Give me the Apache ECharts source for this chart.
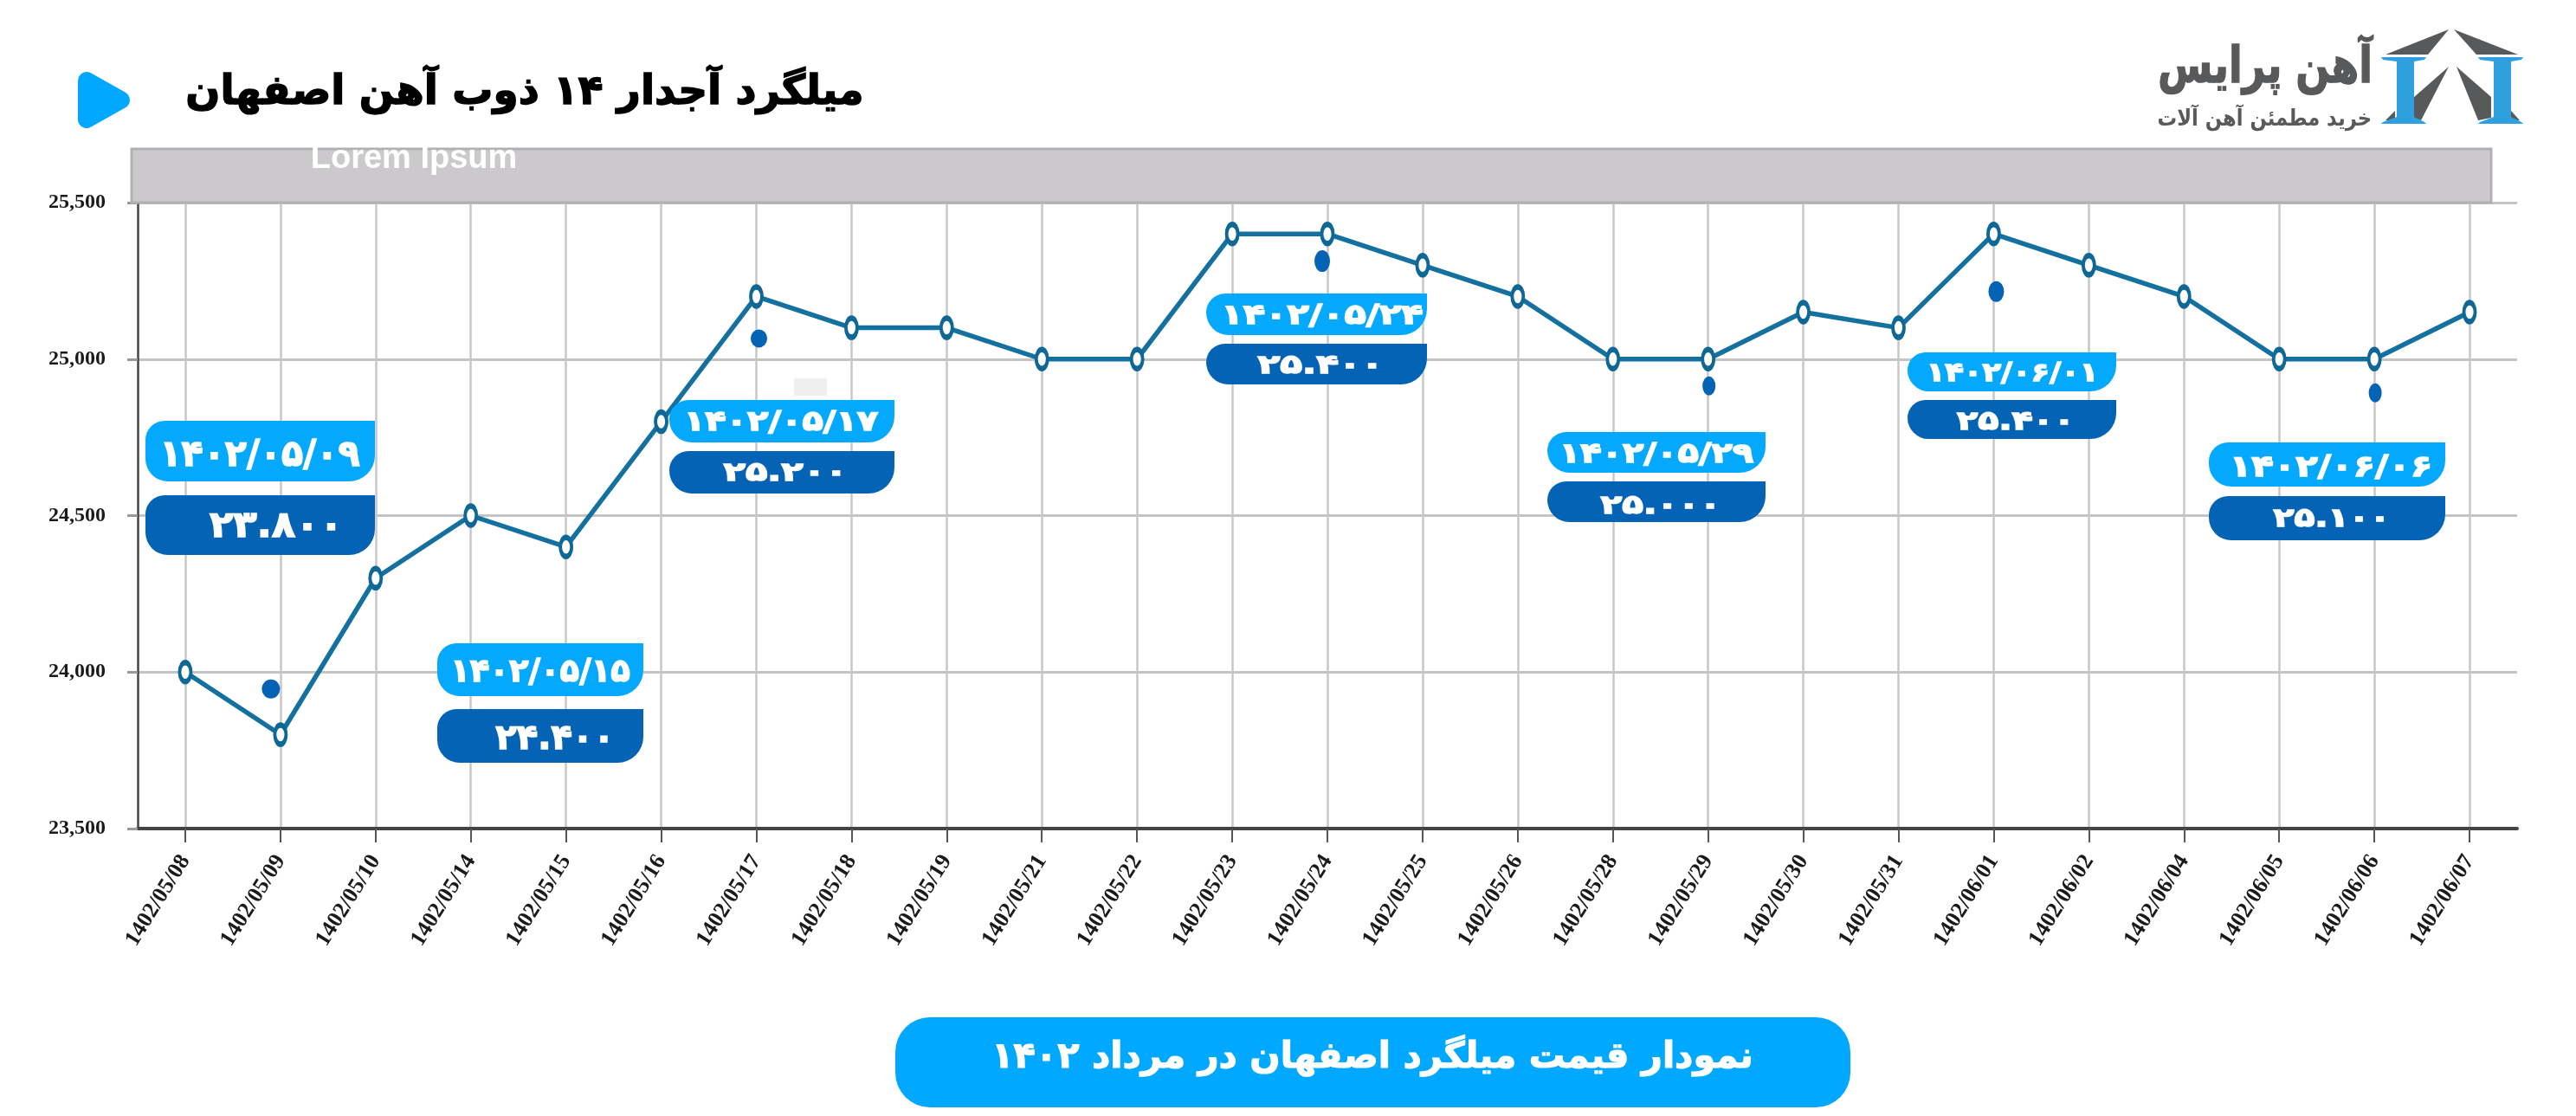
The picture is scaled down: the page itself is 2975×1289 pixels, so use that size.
<!DOCTYPE html>
<html><head><meta charset="utf-8">
<style>html,body{margin:0;padding:0;background:#fff}#c{width:2975px;height:1289px}</style>
<script src="https://cdn.jsdelivr.net/npm/echarts@6/dist/echarts.min.js"></script>
</head><body><div id="c"></div>
<script>
const categories = ['1402/05/08','1402/05/09','1402/05/10','1402/05/14','1402/05/15','1402/05/16','1402/05/17','1402/05/18','1402/05/19','1402/05/21','1402/05/22','1402/05/23','1402/05/24','1402/05/25','1402/05/26','1402/05/28','1402/05/29','1402/05/30','1402/05/31','1402/06/01','1402/06/02','1402/06/04','1402/06/05','1402/06/06','1402/06/07'];
const prices = [24000,23800,24300,24500,24400,24800,25200,25100,25100,25000,25000,25400,25400,25300,25200,25000,25000,25150,25100,25400,25300,25200,25000,25000,25150];
const dotCategories = ['1402/05/09','1402/05/17','1402/05/24','1402/05/29','1402/06/01','1402/06/06'];
const dotValues = [23946,25066,25313,24914,25216,24892];
const calloutDates = ['۱۴۰۲/۰۵/۰۹','۱۴۰۲/۰۵/۱۵','۱۴۰۲/۰۵/۱۷','۱۴۰۲/۰۵/۲۴','۱۴۰۲/۰۵/۲۹','۱۴۰۲/۰۶/۰۱','۱۴۰۲/۰۶/۰۶'];
const calloutPrices = ['۲۳.۸۰۰','۲۴.۴۰۰','۲۵.۲۰۰','۲۵.۴۰۰','۲۵.۰۰۰','۲۵.۴۰۰','۲۵.۱۰۰'];
const titleText = 'میلگرد آجدار ۱۴ ذوب آهن اصفهان';
const footerText = 'نمودار قیمت میلگرد اصفهان در مرداد ۱۴۰۲';
const brandName = 'آهن پرایس';
const brandTag = 'خرید مطمئن آهن آلات';
const bandText = 'Lorem Ipsum';

const dotLook = [[21,22,-11],[19,21,3],[18,25,-6],[15,22,1],[18,24,3],[15,22,1]];
const boxes = [
 {x:168,w:265,ly:486,lh:70,dy:572,dh:69,dc:[300,522],vc:[319,604],ds:42,dx:0.98,vs:42,vx:1.07},
 {x:505,w:238,ly:743,lh:61,dy:819,dh:62,dc:[624,773],vc:[641,850],ds:37,dx:1,vs:40,vx:1},
 {x:773,w:260,ly:462,lh:49,dy:521,dh:49,dc:[902,485],vc:[907,544],ds:32,dx:1.25,vs:30,vx:1.39},
 {x:1393,w:255,ly:339,lh:48,dy:397,dh:47,dc:[1527,362],vc:[1525,420],ds:32,dx:1.3,vs:30,vx:1.41},
 {x:1787,w:252,ly:499,lh:47,dy:556,dh:47,dc:[1913,522],vc:[1918,582],ds:32,dx:1.25,vs:30,vx:1.35},
 {x:2203,w:241,ly:407,lh:45,dy:462,dh:45,dc:[2324,429],vc:[2328,485],ds:30,dx:1.18,vs:30,vx:1.32},
 {x:2551,w:273,ly:511,lh:51,dy:573,dh:51,dc:[2692,537],vc:[2693,597],ds:34,dx:1.23,vs:30,vx:1.31}
];
const FA = '"DejaVu Sans"';
const Z = 100;
const g = [];
const txt = (x,y,text,font,fill,align,extra,sx)=>({type:'text',z:Z,x,y,scaleX:sx||1,style:Object.assign({text,font,fill,align:align||'center',verticalAlign:'middle'},extra||{})});
const rect = (x,y,w,h,r,fill,extra)=>({type:'rect',z:Z,shape:{x,y,width:w,height:h,r},style:Object.assign({fill},extra||{})});
const poly = (points,fill)=>({type:'polygon',z:Z,shape:{points},style:{fill}});

// header
g.push({type:'polygon',z:Z,shape:{points:[[100,93],[140,115.5],[100,138]]},style:{fill:'#00a8ff',stroke:'#00a8ff',lineWidth:20,lineJoin:'round'}});
g.push(txt(606,108,titleText,`bold 47px ${FA}`,'#000','center',{stroke:'#000',lineWidth:1.5}));
// logo
const blue='#2f9fe0', dark='#58595b';
g.push(poly([[2755,63],[2828,34],[2804,63]],dark));
g.push(poly([[2834,34],[2908,63],[2860,63]],dark));
g.push(poly([[2828,77],[2787,113],[2786,136],[2796,139]],dark));
g.push(poly([[2837,77],[2877,112],[2877,136],[2862,139]],dark));
g.push(poly([[2755,139],[2766,128],[2766,139]],dark));
g.push(poly([[2900,128],[2910,139],[2900,139]],dark));
const beam=(x0)=>poly([[x0,66],[x0+52,66],[x0+50,69],[x0+38,71],[x0+38,135],[x0+50,141],[x0+52,143],[x0,143],[x0+2,141],[x0+18,135],[x0+18,71],[x0+2,69]],blue);
g.push(beam(2750)); g.push(beam(2862));
g.push(txt(2740,80,brandName,`bold 58px ${FA}`,dark,'right',{stroke:dark,lineWidth:1.5},0.79));
g.push(txt(2739,138,brandTag,`bold 26px ${FA}`,dark,'right',null,0.87));
// grey band
g.push(rect(152,172,2725,62,0,'#cbc9cc',{stroke:'#b2b0b3',lineWidth:3}));
g.push(txt(478,184,bandText,'bold 38px "Liberation Sans"','#fff'));
g.push(rect(917,437,38,20,0,'#efefef'));
// callouts
boxes.forEach((b,i)=>{
  g.push(rect(b.x,b.ly,b.w,b.lh,[22,0,30,26],'#04a9fd'));
  g.push(rect(b.x,b.dy,b.w,b.dh,[22,0,30,26],'#0463b5'));
  g.push(txt(b.dc[0],b.dc[1]+b.ds*0.12,calloutDates[i],`bold ${b.ds}px ${FA}`,'#fff','center',{stroke:'#fff',lineWidth:1.5},b.dx));
  g.push(txt(b.vc[0],b.vc[1]+b.vs*0.12,calloutPrices[i],`bold ${b.vs}px ${FA}`,'#fff','center',{stroke:'#fff',lineWidth:1.5},b.vx));
});
// footer
g.push(rect(1034,1175,1103,104,40,'#00a8ff'));
g.push(txt(1585,1222,footerText,`bold 41.5px ${FA}`,'#fff','center',{stroke:'#fff',lineWidth:1.2}));

const chart = echarts.init(document.getElementById('c'),null,{renderer:'canvas'});
chart.setOption({
  animation:false, backgroundColor:'#fff',
  grid:{left:159,top:234,width:2748,height:723,containLabel:false},
  xAxis:{type:'category',data:categories,boundaryGap:true,
    axisLine:{show:true,lineStyle:{color:'#444',width:4}},
    axisTick:{show:true,alignWithLabel:true,length:16,lineStyle:{color:'#555',width:2}},
    splitLine:{show:true,alignWithLabel:true,lineStyle:{color:'#c9c7c9',width:2.5}},
    axisLabel:{interval:0,rotate:58,margin:33,fontFamily:'"Liberation Serif"',fontWeight:'bold',fontSize:26,color:'#1a1a1a'}},
  yAxis:{type:'value',min:23500,max:25500,interval:500,
    axisLine:{show:true,lineStyle:{color:'#444',width:2.5}},
    axisTick:{show:true,length:12,lineStyle:{color:'#999',width:3}},
    splitLine:{show:true,lineStyle:{color:'#c4c4c4',width:3}},
    axisLabel:{margin:37,fontFamily:'"Liberation Serif"',fontWeight:'bold',fontSize:24,color:'#1a1a1a',padding:[12,0,0,0],
      formatter:v=>v.toLocaleString('en-US')}},
  series:[
   {type:'line',data:prices,symbol:'circle',symbolSize:[13,22],showSymbol:true,
    lineStyle:{color:'#14719f',width:5.5},itemStyle:{color:'#fff',borderColor:'#0f6796',borderWidth:5},z:3},
   {type:'scatter',data:dotCategories.map((c,i)=>({value:[c,dotValues[i]],symbolSize:[dotLook[i][0],dotLook[i][1]],symbolOffset:[dotLook[i][2],0]})),
    symbol:'circle',itemStyle:{color:'#0463b5',opacity:1},z:4}
  ],
  graphic:{elements:g}
});
</script></body></html>
